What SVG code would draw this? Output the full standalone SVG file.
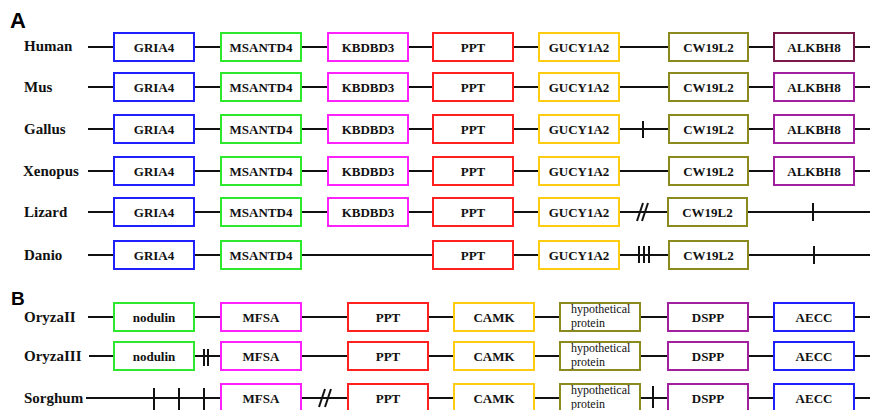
<svg xmlns="http://www.w3.org/2000/svg" width="871" height="410" viewBox="0 0 871 410">
<style>
.bg{fill:#ffffff}
.box{fill:#ffffff;stroke-width:2}
.lbl{font-family:"Liberation Serif","Times New Roman",serif;font-weight:bold;font-size:15px;fill:#111}
.gt{font-family:"Liberation Serif","Times New Roman",serif;font-weight:bold;font-size:13px;fill:#111;text-anchor:middle}
.hp{font-family:"Liberation Serif","Times New Roman",serif;font-size:12px;fill:#111}
.pl{font-family:"Liberation Sans",Arial,sans-serif;font-weight:bold;fill:#000}
.ln{stroke:#111;stroke-width:2;fill:none}
.blue{stroke:#2020ff}.green{stroke:#2ee82e}.mag{stroke:#ff22ff}.red{stroke:#ff2020}.gold{stroke:#ffcc11}.olive{stroke:#8a8a1e}.maroon{stroke:#7a1a4a}.purple{stroke:#a020a0}
</style>
<rect class="bg" x="0" y="0" width="871" height="410"/>
<text class="pl" x="10" y="28" font-size="22">A</text>
<text class="pl" x="11" y="305" font-size="19">B</text>
<g id="connectors">
<line class="ln" x1="88" y1="47" x2="870" y2="47"/>
<line class="ln" x1="88" y1="87" x2="870" y2="87"/>
<line class="ln" x1="88" y1="129" x2="870" y2="129"/>
<line class="ln" x1="643" y1="121" x2="643" y2="138"/>
<line class="ln" x1="88" y1="171" x2="870" y2="171"/>
<line class="ln" x1="88" y1="212" x2="870" y2="212"/>
<line class="ln" x1="637" y1="221" x2="643" y2="203"/>
<line class="ln" x1="642" y1="221" x2="648" y2="203"/>
<line class="ln" x1="813" y1="203" x2="813" y2="221"/>
<line class="ln" x1="88" y1="255" x2="870" y2="255"/>
<line class="ln" x1="639" y1="246" x2="639" y2="263"/>
<line class="ln" x1="644" y1="246" x2="644" y2="263"/>
<line class="ln" x1="649" y1="246" x2="649" y2="263"/>
<line class="ln" x1="814" y1="246" x2="814" y2="264"/>
<line class="ln" x1="88" y1="317" x2="870" y2="317"/>
<line class="ln" x1="89" y1="356" x2="870" y2="356"/>
<line class="ln" x1="204" y1="349" x2="204" y2="366"/>
<line class="ln" x1="208" y1="349" x2="208" y2="366"/>
<line class="ln" x1="86" y1="398" x2="870" y2="398"/>
<line class="ln" x1="154" y1="388" x2="154" y2="410"/>
<line class="ln" x1="179" y1="388" x2="179" y2="410"/>
<line class="ln" x1="204" y1="388" x2="204" y2="410"/>
<line class="ln" x1="319" y1="407" x2="325" y2="389"/>
<line class="ln" x1="325" y1="407" x2="331" y2="389"/>
<line class="ln" x1="653" y1="386" x2="653" y2="408"/>
</g>
<g id="labels">
<text class="lbl" x="24" y="51">Human</text>
<text class="lbl" x="24" y="92">Mus</text>
<text class="lbl" x="24" y="134">Gallus</text>
<text class="lbl" x="23" y="176">Xenopus</text>
<text class="lbl" x="24" y="217">Lizard</text>
<text class="lbl" x="24" y="260">Danio</text>
<text class="lbl" x="24" y="322">OryzaII</text>
<text class="lbl" x="24" y="361">OryzaIII</text>
<text class="lbl" x="24" y="403">Sorghum</text>
</g>
<!-- Human -->
<g id="human-gria4"><rect class="box blue" x="114" y="33" width="80" height="28"/><text class="gt" x="154" y="52">GRIA4</text></g>
<g id="human-msantd4"><rect class="box green" x="221" y="33" width="80" height="28"/><text class="gt" x="261" y="52">MSANTD4</text></g>
<g id="human-kbdbd3"><rect class="box mag" x="328" y="33" width="80" height="28"/><text class="gt" x="368" y="52">KBDBD3</text></g>
<g id="human-ppt"><rect class="box red" x="433" y="33" width="80" height="28"/><text class="gt" x="473" y="52">PPT</text></g>
<g id="human-gucy1a2"><rect class="box gold" x="539" y="33" width="80" height="28"/><text class="gt" x="579" y="52">GUCY1A2</text></g>
<g id="human-cw19l2"><rect class="box olive" x="669" y="33" width="79" height="28"/><text class="gt" x="708.5" y="52">CW19L2</text></g>
<g id="human-alkbh8"><rect class="box maroon" x="774" y="33" width="80" height="28"/><text class="gt" x="814" y="52">ALKBH8</text></g>
<!-- Mus -->
<g id="mus-gria4"><rect class="box blue" x="114" y="73" width="80" height="28"/><text class="gt" x="154" y="92">GRIA4</text></g>
<g id="mus-msantd4"><rect class="box green" x="221" y="73" width="80" height="28"/><text class="gt" x="261" y="92">MSANTD4</text></g>
<g id="mus-kbdbd3"><rect class="box mag" x="328" y="73" width="80" height="28"/><text class="gt" x="368" y="92">KBDBD3</text></g>
<g id="mus-ppt"><rect class="box red" x="433" y="73" width="80" height="28"/><text class="gt" x="473" y="92">PPT</text></g>
<g id="mus-gucy1a2"><rect class="box gold" x="539" y="73" width="80" height="28"/><text class="gt" x="579" y="92">GUCY1A2</text></g>
<g id="mus-cw19l2"><rect class="box olive" x="669" y="73" width="79" height="28"/><text class="gt" x="708.5" y="92">CW19L2</text></g>
<g id="mus-alkbh8"><rect class="box purple" x="774" y="73" width="80" height="28"/><text class="gt" x="814" y="92">ALKBH8</text></g>
<!-- Gallus -->
<g id="gallus-gria4"><rect class="box blue" x="114" y="115" width="80" height="28"/><text class="gt" x="154" y="134">GRIA4</text></g>
<g id="gallus-msantd4"><rect class="box green" x="221" y="115" width="80" height="28"/><text class="gt" x="261" y="134">MSANTD4</text></g>
<g id="gallus-kbdbd3"><rect class="box mag" x="328" y="115" width="80" height="28"/><text class="gt" x="368" y="134">KBDBD3</text></g>
<g id="gallus-ppt"><rect class="box red" x="433" y="115" width="80" height="28"/><text class="gt" x="473" y="134">PPT</text></g>
<g id="gallus-gucy1a2"><rect class="box gold" x="539" y="115" width="80" height="28"/><text class="gt" x="579" y="134">GUCY1A2</text></g>
<g id="gallus-cw19l2"><rect class="box olive" x="669" y="115" width="79" height="28"/><text class="gt" x="708.5" y="134">CW19L2</text></g>
<g id="gallus-alkbh8"><rect class="box purple" x="774" y="115" width="80" height="28"/><text class="gt" x="814" y="134">ALKBH8</text></g>
<!-- Xenopus -->
<g id="xenopus-gria4"><rect class="box blue" x="114" y="157" width="80" height="28"/><text class="gt" x="154" y="176">GRIA4</text></g>
<g id="xenopus-msantd4"><rect class="box green" x="221" y="157" width="80" height="28"/><text class="gt" x="261" y="176">MSANTD4</text></g>
<g id="xenopus-kbdbd3"><rect class="box mag" x="328" y="157" width="80" height="28"/><text class="gt" x="368" y="176">KBDBD3</text></g>
<g id="xenopus-ppt"><rect class="box red" x="433" y="157" width="80" height="28"/><text class="gt" x="473" y="176">PPT</text></g>
<g id="xenopus-gucy1a2"><rect class="box gold" x="539" y="157" width="80" height="28"/><text class="gt" x="579" y="176">GUCY1A2</text></g>
<g id="xenopus-cw19l2"><rect class="box olive" x="669" y="157" width="79" height="28"/><text class="gt" x="708.5" y="176">CW19L2</text></g>
<g id="xenopus-alkbh8"><rect class="box purple" x="774" y="157" width="80" height="28"/><text class="gt" x="814" y="176">ALKBH8</text></g>
<!-- Lizard -->
<g id="lizard-gria4"><rect class="box blue" x="114" y="198" width="80" height="28"/><text class="gt" x="154" y="217">GRIA4</text></g>
<g id="lizard-msantd4"><rect class="box green" x="221" y="198" width="80" height="28"/><text class="gt" x="261" y="217">MSANTD4</text></g>
<g id="lizard-kbdbd3"><rect class="box mag" x="328" y="198" width="80" height="28"/><text class="gt" x="368" y="217">KBDBD3</text></g>
<g id="lizard-ppt"><rect class="box red" x="433" y="198" width="80" height="28"/><text class="gt" x="473" y="217">PPT</text></g>
<g id="lizard-gucy1a2"><rect class="box gold" x="539" y="198" width="80" height="28"/><text class="gt" x="579" y="217">GUCY1A2</text></g>
<g id="lizard-cw19l2"><rect class="box olive" x="668" y="198" width="79" height="28"/><text class="gt" x="707.5" y="217">CW19L2</text></g>
<!-- Danio -->
<g id="danio-gria4"><rect class="box blue" x="114" y="241" width="80" height="28"/><text class="gt" x="154" y="260">GRIA4</text></g>
<g id="danio-msantd4"><rect class="box green" x="221" y="241" width="80" height="28"/><text class="gt" x="261" y="260">MSANTD4</text></g>
<g id="danio-ppt"><rect class="box red" x="433" y="241" width="80" height="28"/><text class="gt" x="473" y="260">PPT</text></g>
<g id="danio-gucy1a2"><rect class="box gold" x="539" y="241" width="80" height="28"/><text class="gt" x="579" y="260">GUCY1A2</text></g>
<g id="danio-cw19l2"><rect class="box olive" x="669" y="241" width="79" height="28"/><text class="gt" x="708.5" y="260">CW19L2</text></g>
<!-- OryzaII -->
<g id="oryza2-nodulin"><rect class="box green" x="114" y="303" width="80" height="28"/><text class="gt" x="154" y="322">nodulin</text></g>
<g id="oryza2-mfsa"><rect class="box mag" x="221" y="303" width="80" height="28"/><text class="gt" x="261" y="322">MFSA</text></g>
<g id="oryza2-ppt"><rect class="box red" x="348" y="303" width="80" height="28"/><text class="gt" x="388" y="322">PPT</text></g>
<g id="oryza2-camk"><rect class="box gold" x="454" y="303" width="80" height="28"/><text class="gt" x="494" y="322">CAMK</text></g>
<g id="oryza2-hyp"><rect class="box olive" x="560" y="303" width="80" height="28"/><text class="hp" x="571" y="313">hypothetical</text><text class="hp" x="571" y="327">protein</text></g>
<g id="oryza2-dspp"><rect class="box purple" x="668" y="303" width="80" height="28"/><text class="gt" x="708" y="322">DSPP</text></g>
<g id="oryza2-aecc"><rect class="box blue" x="774" y="303" width="80" height="28"/><text class="gt" x="814" y="322">AECC</text></g>
<!-- OryzaIII -->
<g id="oryza3-nodulin"><rect class="box green" x="114" y="342" width="80" height="28"/><text class="gt" x="154" y="361">nodulin</text></g>
<g id="oryza3-mfsa"><rect class="box mag" x="221" y="342" width="80" height="28"/><text class="gt" x="261" y="361">MFSA</text></g>
<g id="oryza3-ppt"><rect class="box red" x="348" y="342" width="80" height="28"/><text class="gt" x="388" y="361">PPT</text></g>
<g id="oryza3-camk"><rect class="box gold" x="454" y="342" width="80" height="28"/><text class="gt" x="494" y="361">CAMK</text></g>
<g id="oryza3-hyp"><rect class="box olive" x="560" y="342" width="80" height="28"/><text class="hp" x="571" y="352">hypothetical</text><text class="hp" x="571" y="366">protein</text></g>
<g id="oryza3-dspp"><rect class="box purple" x="668" y="342" width="80" height="28"/><text class="gt" x="708" y="361">DSPP</text></g>
<g id="oryza3-aecc"><rect class="box blue" x="774" y="342" width="80" height="28"/><text class="gt" x="814" y="361">AECC</text></g>
<!-- Sorghum -->
<g id="sorghum-mfsa"><rect class="box mag" x="221" y="384" width="80" height="28"/><text class="gt" x="261" y="403">MFSA</text></g>
<g id="sorghum-ppt"><rect class="box red" x="348" y="384" width="80" height="28"/><text class="gt" x="388" y="403">PPT</text></g>
<g id="sorghum-camk"><rect class="box gold" x="454" y="384" width="80" height="28"/><text class="gt" x="494" y="403">CAMK</text></g>
<g id="sorghum-hyp"><rect class="box olive" x="560" y="384" width="80" height="28"/><text class="hp" x="571" y="394">hypothetical</text><text class="hp" x="571" y="408">protein</text></g>
<g id="sorghum-dspp"><rect class="box purple" x="668" y="384" width="80" height="28"/><text class="gt" x="708" y="403">DSPP</text></g>
<g id="sorghum-aecc"><rect class="box blue" x="774" y="384" width="80" height="28"/><text class="gt" x="814" y="403">AECC</text></g>
</svg>
